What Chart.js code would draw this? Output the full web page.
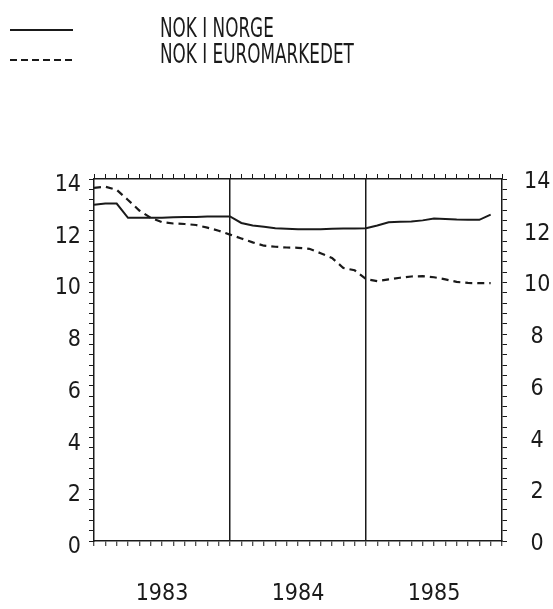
<!DOCTYPE html>
<html lang="no">
  <head>
    <meta charset="UTF-8" />
    <title>NOK I NORGE / NOK I EUROMARKEDET</title>
    <script src="https://cdn.jsdelivr.net/npm/chart.js"></script>
    <style>
      * {
        margin: 0;
        padding: 0;
        box-sizing: border-box;
      }
      body {
        background: #fff;
        width: 553px;
        height: 609px;
        overflow: hidden;
        font-family: "Liberation Sans Narrow", "DejaVu Sans Condensed", sans-serif;
        color: #1a1a1a;
      }
      .wrap {
        position: relative;
        width: 553px;
        height: 609px;
      }
      .legend-line {
        position: absolute;
        left: 10px;
        width: 63px;
        height: 2px;
      }
      .solid {
        top: 29px;
        background: #1a1a1a;
      }
      .dashed {
        top: 59px;
        background: repeating-linear-gradient(to right, #1a1a1a 0 7px, transparent 7px 11px);
      }
      .legend-text {
        position: absolute;
        left: 160px;
        font-size: 26px;
        line-height: 26px;
        white-space: nowrap;
        transform: scaleX(0.72);
        transform-origin: left center;
      }
    </style>
  </head>
  <body>
    <div class="wrap">
      <div class="legend-line solid"></div>
      <div class="legend-text" style="top: 15px">NOK I NORGE</div>
      <div class="legend-line dashed"></div>
      <div class="legend-text" style="top: 41px">NOK I EUROMARKEDET</div>
      <canvas id="chart" width="553" height="609"></canvas>
    </div>

    <script>
      // monthly values, Jan 1983 - Dec 1985
      const norge = [
        13.0, 13.05, 13.05, 12.5, 12.5, 12.5, 12.5, 12.52, 12.53, 12.53, 12.55, 12.55,
        12.55, 12.3, 12.2, 12.15, 12.1, 12.08, 12.06, 12.06, 12.06, 12.08, 12.09, 12.09,
        12.1, 12.2, 12.33, 12.35, 12.36, 12.4, 12.47, 12.45, 12.43, 12.42, 12.42, 12.62,
      ];
      const euro = [
        13.66, 13.7, 13.58, 13.19, 12.78, 12.5, 12.33, 12.28, 12.26, 12.22, 12.12, 12.0,
        11.85, 11.7, 11.55, 11.42, 11.38, 11.35, 11.34, 11.3, 11.13, 10.95, 10.56, 10.47,
        10.13, 10.05, 10.12, 10.18, 10.23, 10.24, 10.2, 10.12, 10.02, 9.98, 9.97, 9.97,
      ];
      const years = ["1983", "1984", "1985"];
      const yLabels = [0, 2, 4, 6, 8, 10, 12, 14];

      const ink = "#1a1a1a";
      const tickFont = { family: "'Liberation Sans Narrow', 'DejaVu Sans Condensed', sans-serif", size: 23 };

      const toPoints = (arr) => arr.map((v, i) => ({ x: i, y: v }));

      function yLabel(value) {
        const r = Math.round(value);
        return Math.abs(value - r) < 1e-6 && yLabels.includes(r) ? String(r) : "";
      }
      function xLabel(value) {
        // year label in the middle of each year
        return value % 12 === 6 ? years[(value - 6) / 12] : "";
      }

      const fixedWidth = (w) => (scale) => { scale.width = w; };
      const fixedHeight = (h) => (scale) => { scale.height = h; };

      new Chart(document.getElementById("chart"), {
        type: "line",
        data: {
          datasets: [
            {
              label: "NOK I NORGE",
              data: toPoints(norge),
              borderColor: ink,
              borderWidth: 2,
              pointRadius: 0,
              tension: 0,
            },
            {
              label: "NOK I EUROMARKEDET",
              data: toPoints(euro),
              borderColor: ink,
              borderWidth: 2.2,
              borderDash: [7, 5],
              pointRadius: 0,
              tension: 0,
            },
          ],
        },
        options: {
          responsive: false,
          animation: false,
          layout: { padding: { top: 169, left: 0, right: 0, bottom: 0 } },
          plugins: {
            legend: { display: false },
            tooltip: { enabled: false },
          },
          scales: {
            x: {
              type: "linear",
              position: "bottom",
              min: 0,
              max: 36,
              afterFit: fixedHeight(68),
              border: { display: true, color: ink, width: 1.5 },
              grid: {
                color: (ctx) => (ctx.tick && (ctx.tick.value === 12 || ctx.tick.value === 24) ? ink : "rgba(0,0,0,0)"),
                lineWidth: 1.5,
                tickColor: ink,
                tickLength: 5,
                tickWidth: 1,
              },
              ticks: {
                stepSize: 1,
                autoSkip: false,
                maxRotation: 0,
                padding: 34,
                color: ink,
                font: tickFont,
                callback: xLabel,
              },
            },
            xTop: {
              type: "linear",
              position: "top",
              min: 0,
              max: 36,
              afterFit: fixedHeight(10),
              border: { display: true, color: ink, width: 1.5 },
              grid: { drawOnChartArea: false, color: ink, tickLength: 5, tickWidth: 1 },
              ticks: { stepSize: 1, autoSkip: false, display: false },
            },
            y: {
              position: "left",
              min: 0,
              max: 14,
              afterFit: fixedWidth(94),
              border: { display: true, color: ink, width: 1.5 },
              grid: { drawOnChartArea: false, color: ink, tickLength: 5, tickWidth: 1 },
              ticks: {
                stepSize: 0.4,
                autoSkip: false,
                padding: 8,
                labelOffset: 6,
                color: ink,
                font: tickFont,
                callback: yLabel,
              },
            },
            yRight: {
              position: "right",
              min: 0,
              max: 14,
              afterFit: fixedWidth(51),
              border: { display: true, color: ink, width: 1.5 },
              grid: { drawOnChartArea: false, color: ink, tickLength: 5, tickWidth: 1 },
              ticks: {
                stepSize: 0.4,
                autoSkip: false,
                padding: 17,
                labelOffset: 3,
                crossAlign: "center",
                color: ink,
                font: tickFont,
                callback: yLabel,
              },
            },
          },
        },
      });
    </script>
  </body>
</html>
